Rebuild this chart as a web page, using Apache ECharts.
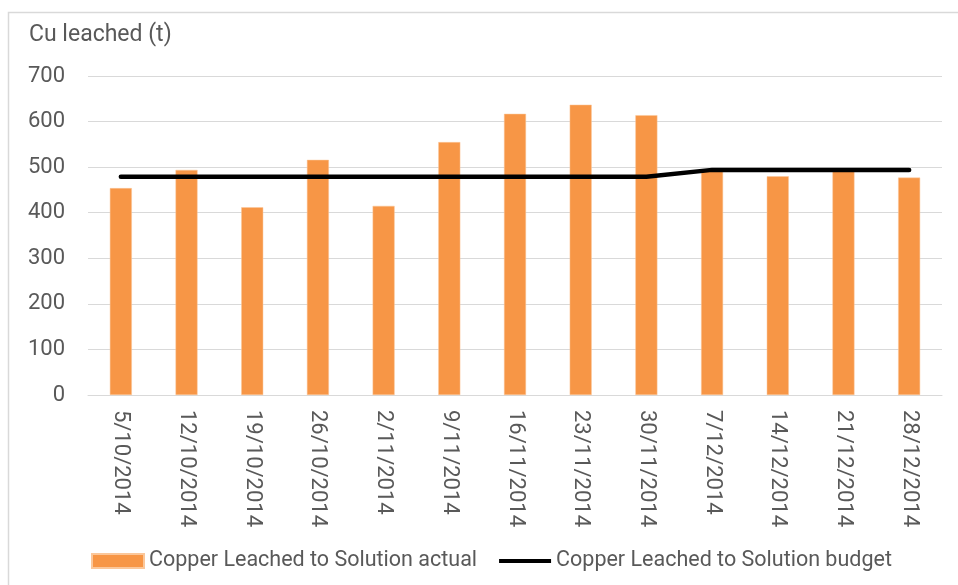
<!DOCTYPE html>
<html>
<head>
    <meta http-equiv=Content-Type content="text/html; charset=utf-8">
    <title>Cu leached</title>
    <script type="text/javascript" src="https://cdn.jsdelivr.net/npm/echarts@6/dist/echarts.min.js"></script>
    <style>
        html, body { margin: 0; padding: 0; background: #fff; }
        #chartmain { width: 958px; height: 585px; }
    </style>
</head>
<body>
<div id="chartmain"></div>
<script type="text/javascript">
    // weekly dates
    var weeks = ['5/10/2014', '12/10/2014', '19/10/2014', '26/10/2014', '2/11/2014', '9/11/2014',
        '16/11/2014', '23/11/2014', '30/11/2014', '7/12/2014', '14/12/2014', '21/12/2014', '28/12/2014'];
    // Cu leached actual (t)
    var actual = [454, 494, 412, 516, 415, 555, 617, 637, 614, 491, 480, 491, 477];
    // Cu leached budget (t)
    var budget = [479, 479, 479, 479, 479, 479, 479, 479, 479, 494, 494, 494, 494];
    var yTicks = [0, 100, 200, 300, 400, 500, 600, 700];

    var txt = '#595959';
    var fnt = 'Roboto';
    var myChart = echarts.init(document.getElementById('chartmain'));
    var option = {
        animation: false,
        textStyle: {fontFamily: fnt},
        graphic: [
            {
                type: 'rect',
                shape: {x: 8.5, y: 12.5, width: 1000, height: 700},
                style: {fill: 'none', stroke: '#d9d9d9', lineWidth: 1.5},
                silent: true
            },
            {
                type: 'text',
                left: 29, top: 24,
                style: {text: 'Cu leached (t)', fill: txt, font: '23px ' + fnt}
            }
        ],
        grid: {left: 88, right: 16, top: 76, bottom: 190},
        legend: {
            left: 86, top: 545,
            itemWidth: 52, itemHeight: 14, itemGap: 22,
            textStyle: {color: txt, fontSize: 21.5, fontFamily: fnt},
            data: [
                {name: 'Copper Leached to Solution actual', icon: 'rect'},
                {name: 'Copper Leached to Solution budget', icon: 'path://M0,0H55V4H0Z'}
            ]
        },
        xAxis: {
            type: 'category',
            data: weeks,
            axisLine: {lineStyle: {color: '#d9d9d9', width: 1}},
            axisTick: {show: false},
            axisLabel: {rotate: -90, color: txt, fontSize: 22, margin: 15, interval: 0}
        },
        yAxis: {
            type: 'value',
            min: yTicks[0], max: yTicks[yTicks.length - 1], interval: 100,
            axisLine: {show: false},
            axisTick: {show: false},
            axisLabel: {color: txt, fontSize: 22, margin: 23},
            splitLine: {lineStyle: {color: '#d9d9d9', width: 1}}
        },
        series: [
            {
                name: 'Copper Leached to Solution actual',
                type: 'bar',
                data: actual,
                barWidth: 22,
                itemStyle: {color: '#F79646', borderColor: '#fbc79a', borderWidth: 0.5}
            },
            {
                name: 'Copper Leached to Solution budget',
                type: 'line',
                data: budget,
                symbol: 'none',
                itemStyle: {color: '#000'},
                lineStyle: {color: '#000', width: 4.5, cap: 'round'}
            }
        ]
    };
    myChart.setOption(option);
</script>
</body>
</html>
